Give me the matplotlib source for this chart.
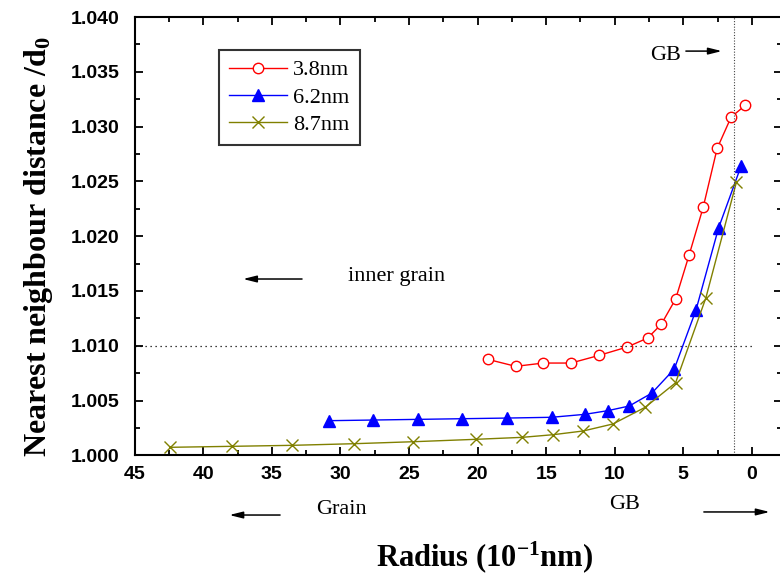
import matplotlib
matplotlib.use("Agg")
import matplotlib.pyplot as plt
from matplotlib.ticker import MultipleLocator

# data (radius in 10^-1 nm, nearest neighbour distance / d0)
r_38 = [19.26, 17.22, 15.21, 13.19, 11.14, 9.10, 7.60, 6.61, 5.56, 4.57, 3.55, 2.53, 1.51, 0.49]
d_38 = [1.00876, 1.00812, 1.00842, 1.00842, 1.00912, 1.00988, 1.01070, 1.01195,
        1.01426, 1.01830, 1.02263, 1.02801, 1.03087, 1.03193]

r_62 = [30.83, 27.60, 24.37, 21.11, 17.84, 14.60, 12.17, 10.52, 8.94, 7.29, 5.66, 4.08, 2.43, 0.78]
d_62 = [1.00316, 1.00322, 1.00328, 1.00334, 1.00340, 1.00347, 1.00374, 1.00407,
        1.00450, 1.00568, 1.00787, 1.01323, 1.02074, 1.02642]

r_87 = [42.42, 37.92, 33.55, 28.99, 24.69, 20.12, 16.74, 14.50, 12.30, 10.13, 7.78, 5.56, 3.35, 1.12]
d_87 = [1.00073, 1.00082, 1.00091, 1.00106, 1.00124, 1.00146, 1.00164, 1.00188,
        1.00222, 1.00286, 1.00438, 1.00662, 1.01438, 1.02496]

gb_radius = 1.31
ref_level = 1.010

serif = "Liberation Serif"
sans = "Liberation Sans"

plt.rcParams["mathtext.fontset"] = "custom"
plt.rcParams["mathtext.rm"] = serif
plt.rcParams["mathtext.it"] = serif + ":italic"
plt.rcParams["mathtext.bf"] = serif + ":bold"

fig = plt.figure(figsize=(7.8, 5.77), dpi=100)
ax = fig.add_axes([0.1727, 0.2109, 0.8299, 0.7596])

ax.plot(r_38, d_38, color="red", lw=1, marker="o", ms=7.5, mfc="white",
        mec="red", mew=1, label="3.8nm")
ax.plot(r_62, d_62, color="blue", lw=1, marker="^", ms=8.5, mfc="blue",
        mec="blue", label="6.2nm")
ax.plot(r_87, d_87, color="#808000", lw=1, marker="x", ms=8, mew=1,
        label="8.7nm")

# reference lines
ax.axvline(gb_radius, color="#444444", lw=0.8, ls=(0, (1, 1.5)))
ax.plot([45, 0], [ref_level, ref_level], color="black", lw=0.9, ls=(0, (1, 3)))

ax.set_xlim(45, -2.2)
ax.set_ylim(1.000, 1.040)
ax.xaxis.set_major_locator(MultipleLocator(5))
ax.xaxis.set_minor_locator(MultipleLocator(2.5))
ax.yaxis.set_major_locator(MultipleLocator(0.005))
ax.yaxis.set_minor_locator(MultipleLocator(0.0025))
ax.yaxis.set_major_formatter(plt.FormatStrFormatter("%.3f"))
ax.xaxis.set_major_formatter(plt.FormatStrFormatter("%d"))

ax.tick_params(which="both", direction="in", top=True, right=True, width=1.3)
ax.tick_params(which="major", length=6)
ax.tick_params(which="minor", length=3.5)
for lab in ax.get_xticklabels() + ax.get_yticklabels():
    lab.set_fontfamily(sans)
    lab.set_fontweight("bold")
    lab.set_fontsize(14)
ax.tick_params(axis="x", pad=8)
ax.tick_params(axis="y", pad=11)
for s in ax.spines.values():
    s.set_linewidth(1.5)

xl = ax.set_xlabel(r"Radius (10$^{\mathbf{-1}}$nm)", fontfamily=serif,
                   fontweight="bold", fontsize=22)
xl.set_va("center")
ax.xaxis.set_label_coords(0.54, -0.232)
yl = ax.set_ylabel(r"Nearest neighbour distance /d$_{\mathbf{0}}$", fontfamily=serif,
                   fontweight="bold", fontsize=23)
yl.set_va("center")
ax.yaxis.set_label_coords(-0.148, 0.475)

leg = ax.legend(loc="upper left", bbox_to_anchor=(0.13, 0.925),
                prop={"family": serif, "size": 16}, frameon=True, fancybox=False,
                handlelength=2.6, handletextpad=0.3, borderpad=0.45,
                labelspacing=0.3, borderaxespad=0)
leg.get_frame().set_edgecolor("black")
leg.get_frame().set_linewidth(1.5)

arrow = dict(arrowstyle="-|>,head_length=0.8,head_width=0.2", color="black",
             lw=1.1, shrinkA=0, shrinkB=0)

# annotations
ax.text(6.27, 1.03652, "GB", fontfamily=serif, fontsize=16, ha="center", va="center")
ax.annotate("", xy=(2.19, 1.03689), xytext=(4.81, 1.03689), arrowprops=arrow)

ax.text(29.45, 1.01636, "inner grain", fontfamily=serif, fontsize=16, ha="left", va="center")
ax.annotate("", xy=(37.1, 1.01609), xytext=(32.8, 1.01609), arrowprops=arrow)

ax.text(31.78, 0.99501, "Grain", fontfamily=serif, fontsize=16, ha="left",
        va="center", clip_on=False)
ax.annotate("", xy=(38.1, 0.99455), xytext=(34.4, 0.99455), arrowprops=arrow,
            annotation_clip=False)

ax.text(9.3, 0.99547, "GB", fontfamily=serif, fontsize=16, ha="center",
        va="center", clip_on=False)
ax.annotate("", xy=(-1.3, 0.99483), xytext=(3.5, 0.99483), arrowprops=arrow,
            annotation_clip=False)

fig.savefig("out.png", dpi=100)
